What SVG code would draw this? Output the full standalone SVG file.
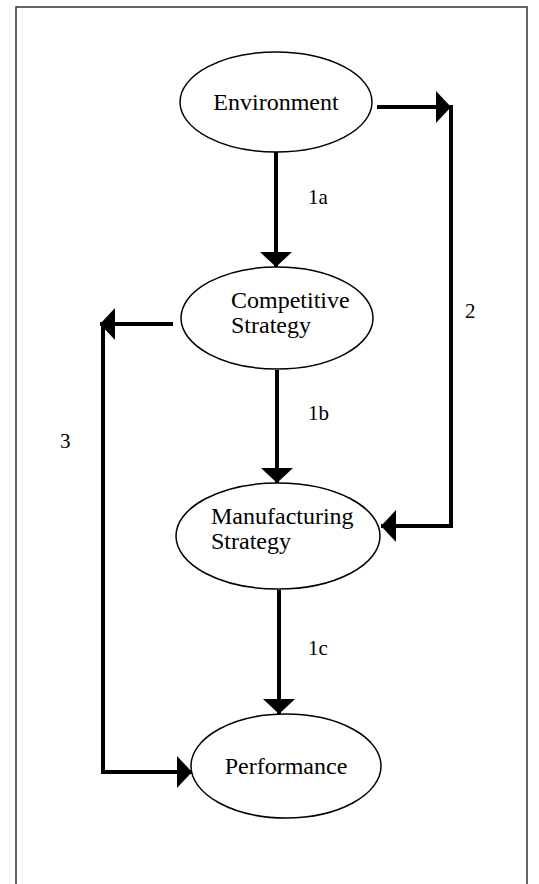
<svg xmlns="http://www.w3.org/2000/svg" width="539" height="884" viewBox="0 0 539 884">
<defs>
<style>
.node ellipse{fill:#fff;stroke:#000;stroke-width:1.5}
text{font-family:"Liberation Serif","Times New Roman","DejaVu Serif",serif;font-size:24px;fill:#000}
.lbl{font-size:21px}
.edge{fill:none;stroke:#000;stroke-width:4}
.frame{fill:none;stroke:#333;stroke-width:1.5}
</style>
<marker id="ah" markerUnits="userSpaceOnUse" markerWidth="16" markerHeight="34" refX="15" refY="17" orient="auto" viewBox="0 0 16 34">
<path d="M0,1 L15,17 L0,33 Z" fill="#000"/>
</marker>
</defs>
<rect width="539" height="884" fill="#fff"/>
<path class="frame" d="M16,884 V7 H527 V884"/>
<g id="connectors">
<path class="edge" d="M276,152 V267" marker-end="url(#ah)"/>
<path class="edge" d="M277,370 V483" marker-end="url(#ah)"/>
<path class="edge" d="M279,590 V714" marker-end="url(#ah)"/>
<path class="edge" d="M377,107 H451" marker-end="url(#ah)"/>
<path class="edge" d="M451,105 V526 H381" marker-end="url(#ah)"/>
<path class="edge" d="M173,324 H100" marker-end="url(#ah)"/>
<path class="edge" d="M103,322 V772 H192" marker-end="url(#ah)"/>
</g>
<g id="labels">
<text class="lbl" x="308" y="204">1a</text>
<text class="lbl" x="308" y="420">1b</text>
<text class="lbl" x="308" y="655">1c</text>
<text class="lbl" x="465" y="318">2</text>
<text class="lbl" x="60" y="448">3</text>
</g>
<g id="environment" class="node">
<ellipse cx="276" cy="102" rx="96" ry="50"/>
<text x="276" y="110" text-anchor="middle">Environment</text>
</g>
<g id="competitive-strategy" class="node">
<ellipse cx="277" cy="318" rx="96" ry="51"/>
<text x="231" y="308">Competitive</text>
<text x="231" y="333">Strategy</text>
</g>
<g id="manufacturing-strategy" class="node">
<ellipse cx="278" cy="536" rx="102" ry="53"/>
<text x="211" y="524">Manufacturing</text>
<text x="211" y="549">Strategy</text>
</g>
<g id="performance" class="node">
<ellipse cx="286" cy="766" rx="95" ry="52"/>
<text x="286" y="774" text-anchor="middle">Performance</text>
</g>
</svg>
